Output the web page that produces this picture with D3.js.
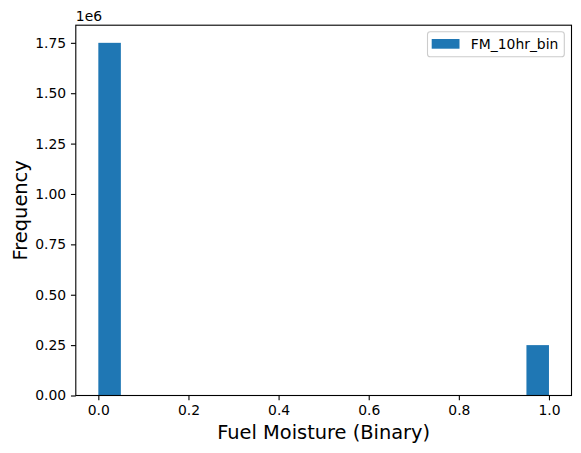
<!DOCTYPE html>
<html>
<head>
<meta charset="utf-8">
<script src="https://cdn.jsdelivr.net/npm/d3@7"></script>
<style>
  html, body { margin: 0; padding: 0; background: #fff; }
  svg { display: block; }
  text { font-family: "DejaVu Sans", sans-serif; fill: #000; }
</style>
</head>
<body>
<svg id="chart" width="581" height="453"></svg>
<script>
// ---- data ----
const binStarts = [0.00, 0.05, 0.10, 0.15, 0.20, 0.25, 0.30, 0.35, 0.40, 0.45,
                   0.50, 0.55, 0.60, 0.65, 0.70, 0.75, 0.80, 0.85, 0.90, 0.95];
const binEnds   = [0.05, 0.10, 0.15, 0.20, 0.25, 0.30, 0.35, 0.40, 0.45, 0.50,
                   0.55, 0.60, 0.65, 0.70, 0.75, 0.80, 0.85, 0.90, 0.95, 1.00];
const counts    = [1750000, 0, 0, 0, 0, 0, 0, 0, 0, 0,
                   0, 0, 0, 0, 0, 0, 0, 0, 0, 250000];
const seriesName = "FM_10hr_bin";
const xTicks = [0.0, 0.2, 0.4, 0.6, 0.8, 1.0];
const yTicks = [0, 250000, 500000, 750000, 1000000, 1250000, 1500000, 1750000];
const xLabel = "Fuel Moisture (Binary)";
const yLabel = "Frequency";
const yOffsetText = "1e6";

// ---- layout ----
const L = 75.8, R = 571.5, T = 25.2, B = 395.5;
const color = "#1f77b4";
const svg = d3.select("#chart");

const xMin = d3.min(binStarts), xMax = d3.max(binEnds);
const xPad = (xMax - xMin) * 0.05;
const x = d3.scaleLinear().domain([xMin - xPad, xMax + xPad]).range([L, R]);
const yMax = d3.max(counts) * 1.05;
const y = d3.scaleLinear().domain([0, yMax]).range([B, T]);

// bars
svg.append("g").selectAll("rect")
  .data(counts.map((c, i) => ({ x0: binStarts[i], x1: binEnds[i], c })))
  .join("rect")
  .attr("x", d => x(d.x0))
  .attr("width", d => x(d.x1) - x(d.x0))
  .attr("y", d => y(d.c))
  .attr("height", d => y(0) - y(d.c))
  .attr("fill", color);

// axes
const tickLen = 4.86, tickPad = 4.86;
const xAxis = d3.axisBottom(x).tickValues(xTicks)
  .tickFormat(d3.format(".1f")).tickSize(tickLen).tickPadding(tickPad);
const yAxis = d3.axisLeft(y).tickValues(yTicks)
  .tickFormat(d => (d / 1e6).toFixed(2)).tickSize(tickLen).tickPadding(tickPad);

const gx = svg.append("g").attr("transform", `translate(0,${B})`).call(xAxis);
const gy = svg.append("g").attr("transform", `translate(${L},0)`).call(yAxis);
[gx, gy].forEach(g => {
  g.select(".domain").remove();
  g.selectAll(".tick line").attr("stroke", "#000").attr("stroke-width", 1.1);
  g.selectAll(".tick text").attr("font-size", "13.9px")
    .attr("font-family", "DejaVu Sans, sans-serif").attr("fill", "#000");
});

// spines
svg.append("rect").attr("x", L).attr("y", T).attr("width", R - L).attr("height", B - T)
  .attr("fill", "none").attr("stroke", "#000").attr("stroke-width", 1.1);

// offset text
svg.append("text").attr("x", L).attr("y", 20.5).attr("font-size", "13.9px").text(yOffsetText);

// axis labels
svg.append("text").attr("x", (L + R) / 2).attr("y", 439)
  .attr("text-anchor", "middle").attr("font-size", "19.4px").text(xLabel);
svg.append("text").attr("transform", `translate(26.5,${(T + B) / 2}) rotate(-90)`)
  .attr("text-anchor", "middle").attr("font-size", "19.4px").text(yLabel);

// legend
const lg = svg.append("g");
const lx = 427.5, ly = 31.8, lw = 136.8, lh = 25;
lg.append("rect").attr("x", lx).attr("y", ly).attr("width", lw).attr("height", lh)
  .attr("rx", 2.8).attr("fill", "#fff").attr("fill-opacity", 0.8)
  .attr("stroke", "#cccccc").attr("stroke-width", 1.1);
lg.append("rect").attr("x", lx + 4.2).attr("y", ly + 7.2).attr("width", 27.8).attr("height", 9.7)
  .attr("fill", color);
lg.append("text").attr("x", lx + 43.3).attr("y", ly + 17.4).attr("font-size", "13.9px").text(seriesName);
</script>
</body>
</html>
